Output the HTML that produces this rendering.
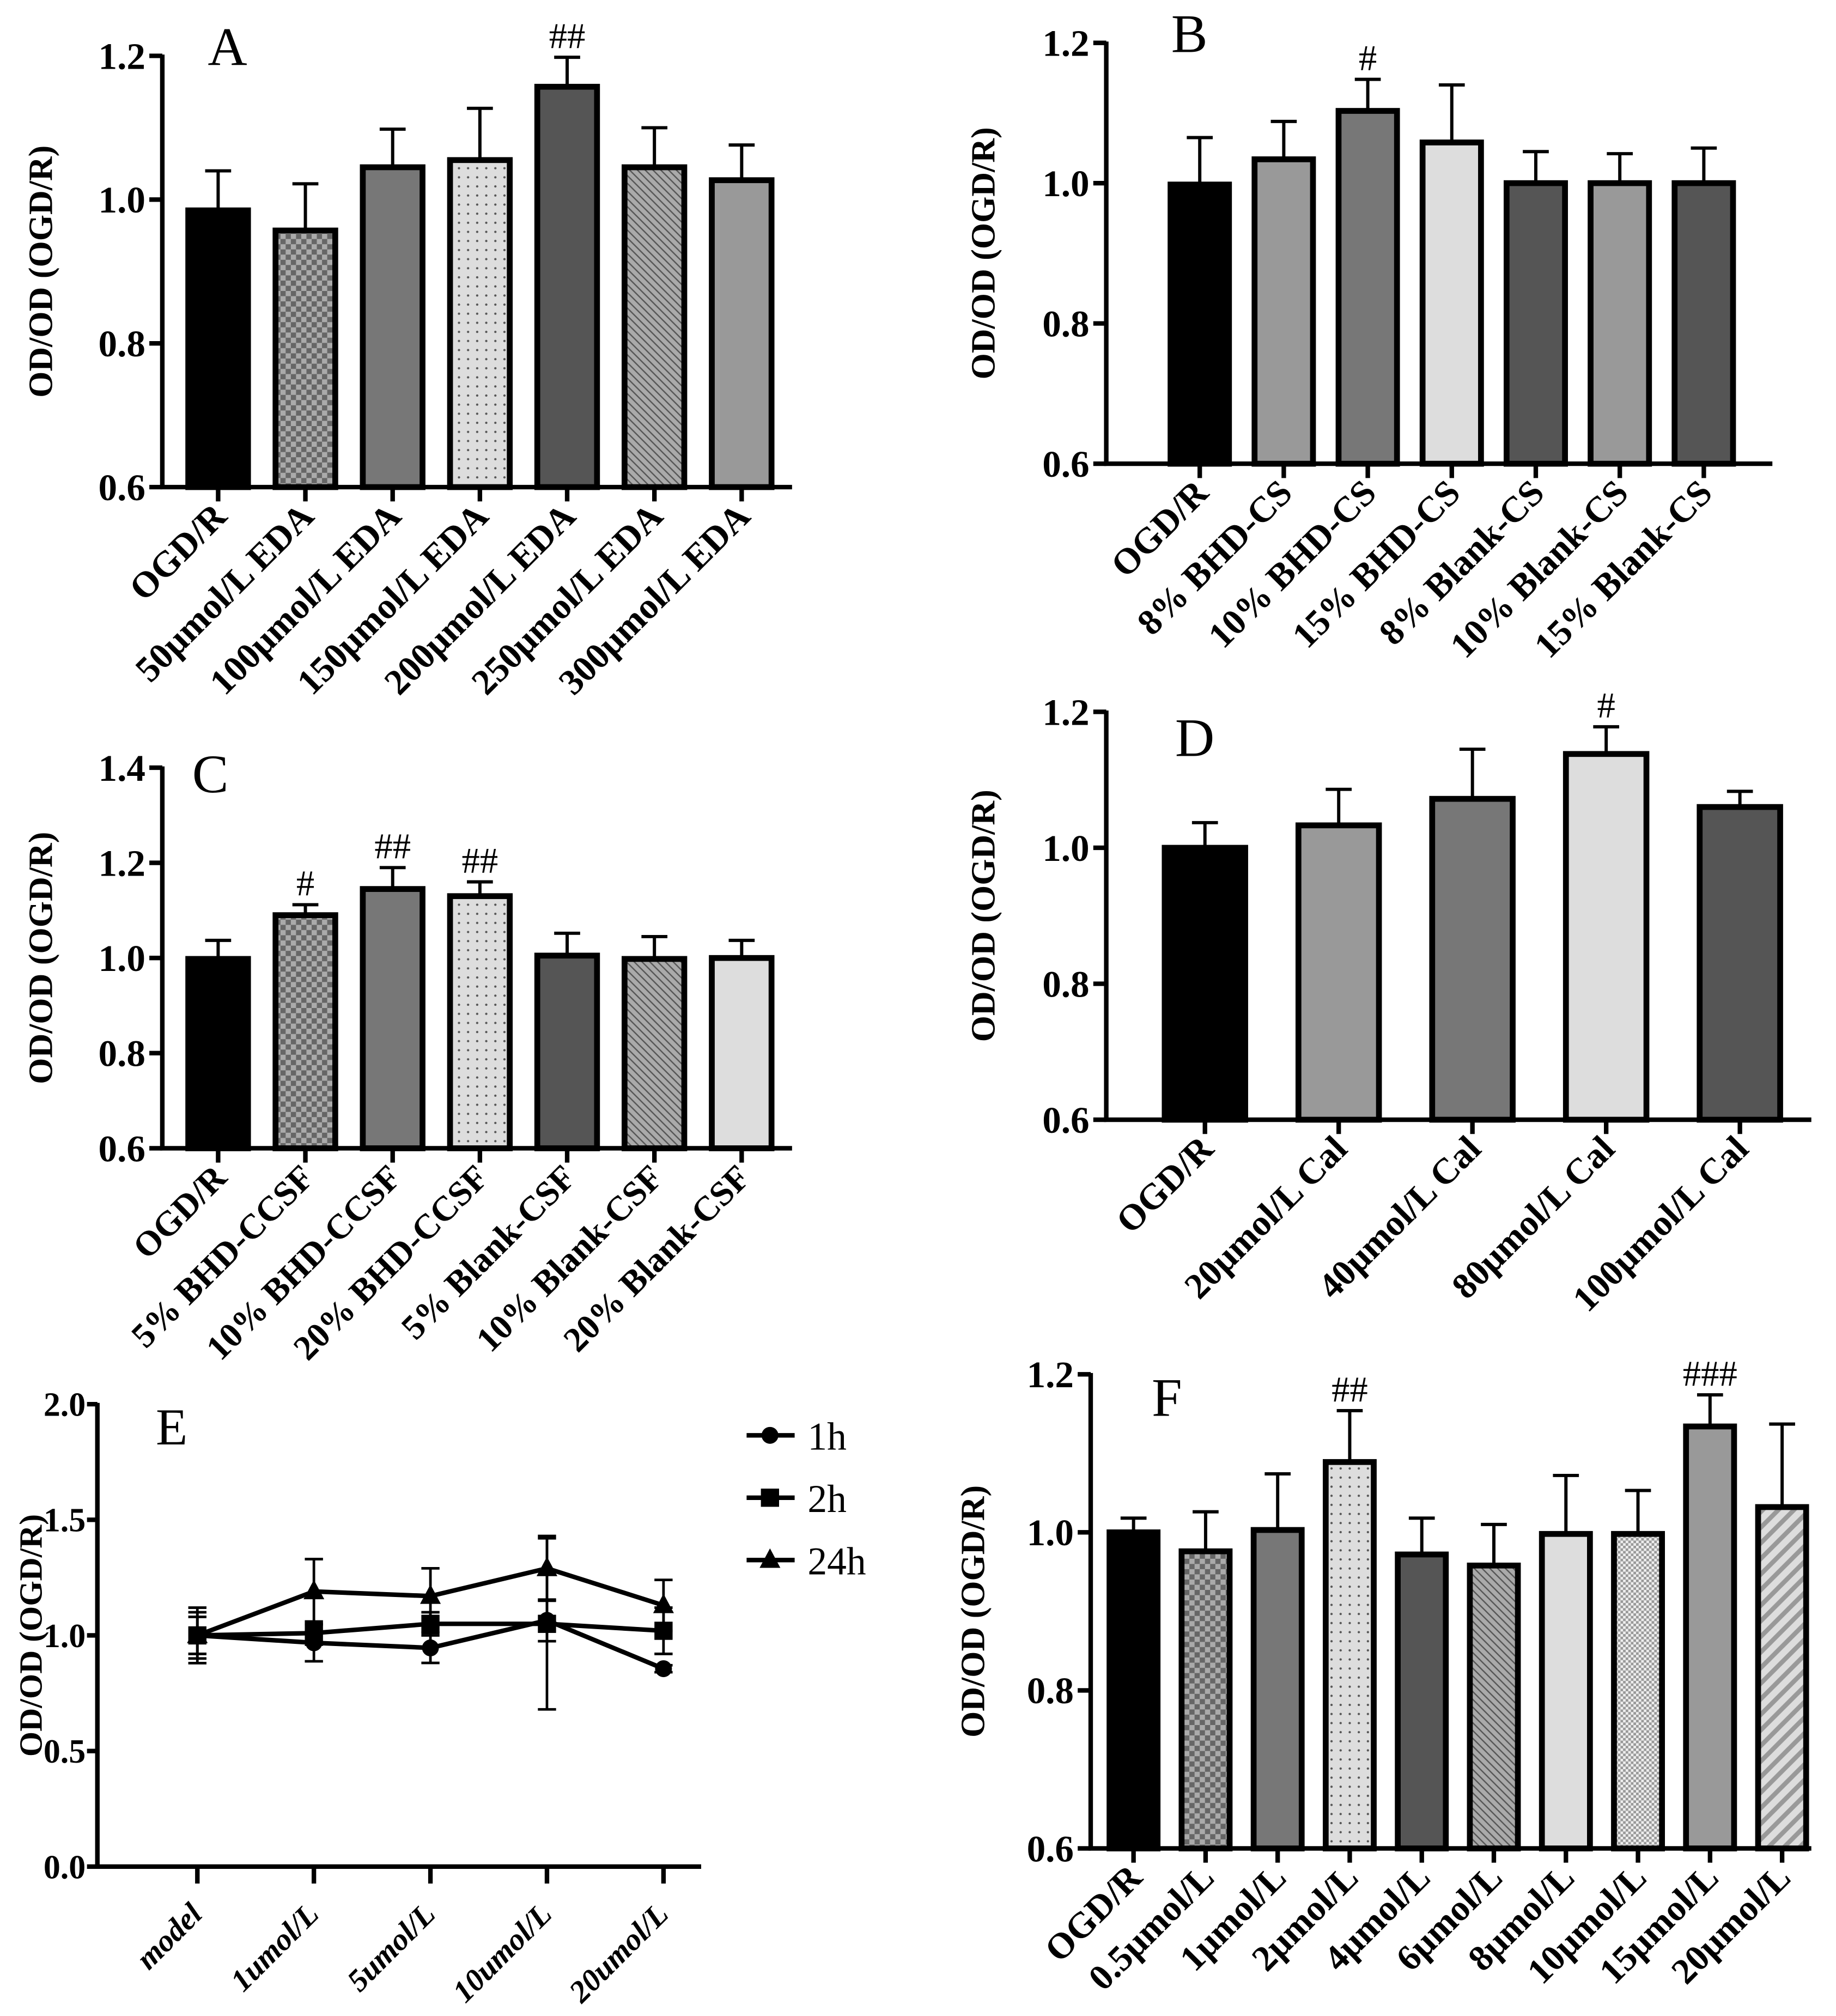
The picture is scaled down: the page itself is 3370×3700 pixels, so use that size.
<!DOCTYPE html>
<html><head><meta charset="utf-8"><style>
html,body{margin:0;padding:0;background:#fff;}
svg{display:block;}
text{font-family:"Liberation Serif",serif;}
</style></head><body>
<svg id="fig" xmlns="http://www.w3.org/2000/svg" width="3370" height="3700" viewBox="0 0 1414 1552" preserveAspectRatio="none">
<defs>
<pattern id="checker" patternUnits="userSpaceOnUse" width="8" height="8"><rect width="8" height="8" fill="#aaa"/><rect width="4" height="4" fill="#666"/><rect x="4" y="4" width="4" height="4" fill="#666"/></pattern>
<pattern id="dots" patternUnits="userSpaceOnUse" width="7" height="7"><rect width="7" height="7" fill="#ddd"/><circle cx="3.5" cy="3.5" r="0.9" fill="#555"/></pattern>
<pattern id="hatch" patternUnits="userSpaceOnUse" width="6" height="6"><rect width="6" height="6" fill="#aaa"/><path d="M-1,-1 L7,7 M-1,5 L1,7 M5,-1 L7,1" stroke="#555" stroke-width="1"/></pattern>
<pattern id="finecheck" patternUnits="userSpaceOnUse" width="4" height="4"><rect width="4" height="4" fill="#eee"/><rect width="2" height="2" fill="#999"/><rect x="2" y="2" width="2" height="2" fill="#999"/></pattern>
<pattern id="stripes" patternUnits="userSpaceOnUse" width="12" height="12"><rect width="12" height="12" fill="#ddd"/><path d="M-3,15 L15,-3 M-3,3 L3,-3 M9,15 L15,9" stroke="#999" stroke-width="3.5"/></pattern>
</defs>
<g id="root"></g>
</svg>
<script>
// ---- Panel A data ----
const catsA = ["OGD/R","50µmol/L EDA","100µmol/L EDA","150µmol/L EDA","200µmol/L EDA","250µmol/L EDA","300µmol/L EDA"];
const valsA = [0.985,0.957,1.045,1.055,1.157,1.045,1.027];
const errA  = [0.055,0.065,0.053,0.072,0.041,0.055,0.049];
const sigA  = ["","","","","##","",""];
const fillA = ["#000","url(#checker)","#777","url(#dots)","#555","url(#hatch)","#999"];
const ticksA = [0.6,0.8,1.0,1.2];
// ---- Panel B data ----
const catsB = ["OGD/R","8% BHD-CS","10% BHD-CS","15% BHD-CS","8% Blank-CS","10% Blank-CS","15% Blank-CS"];
const valsB = [0.998,1.034,1.103,1.058,1.0,1.0,1.0];
const errB  = [0.067,0.054,0.045,0.082,0.045,0.042,0.05];
const sigB  = ["","","#","","","",""];
const fillB = ["#000","#999","#777","#ddd","#555","#999","#555"];
const ticksB = [0.6,0.8,1.0,1.2];
// ---- Panel C data ----
const catsC = ["OGD/R","5% BHD-CCSF","10% BHD-CCSF","20% BHD-CCSF","5% Blank-CSF","10% Blank-CSF","20% Blank-CSF"];
const valsC = [0.998,1.09,1.145,1.13,1.005,0.998,1.0];
const errC  = [0.039,0.022,0.045,0.03,0.047,0.047,0.037];
const sigC  = ["","#","##","##","","",""];
const fillC = ["#000","url(#checker)","#777","url(#dots)","#555","url(#hatch)","#ddd"];
const ticksC = [0.6,0.8,1.0,1.2,1.4];
// ---- Panel D data ----
const catsD = ["OGD/R","20µmol/L Cal","40µmol/L Cal","80µmol/L Cal","100µmol/L Cal"];
const valsD = [1.0,1.033,1.072,1.138,1.06];
const errD  = [0.037,0.053,0.073,0.04,0.023];
const sigD  = ["","","","#",""];
const fillD = ["#000","#999","#777","#ddd","#555"];
const ticksD = [0.6,0.8,1.0,1.2];
// ---- Panel F data ----
const catsF = ["OGD/R","0.5µmol/L","1µmol/L","2µmol/L","4µmol/L","6µmol/L","8µmol/L","10µmol/L","15µmol/L","20µmol/L"];
const valsF = [1.0,0.976,1.003,1.089,0.972,0.958,0.998,0.998,1.134,1.032];
const errF  = [0.018,0.05,0.071,0.065,0.046,0.052,0.074,0.055,0.04,0.105];
const sigF  = ["","","","##","","","","","###",""];
const fillF = ["#000","url(#checker)","#777","url(#dots)","#555","url(#hatch)","#ddd","url(#finecheck)","#999","url(#stripes)"];
const ticksF = [0.6,0.8,1.0,1.2];
// ---- Panel E data ----
const catsE = ["model","1umol/L","5umol/L","10umol/L","20umol/L"];
const seriesNames = ["1h","2h","24h"];
const vals1h  = [1.0,0.968,0.946,1.065,0.856];
const vals2h  = [1.0,1.01,1.05,1.05,1.02];
const vals24h = [1.0,1.19,1.17,1.29,1.13];
const err1h  = [0.08,0.08,0.065,0.09,0.015];
const err2h  = [0.12,0.05,0.05,0.37,0.1];
const err24h = [0.1,0.14,0.12,0.14,0.11];
const ticksE = [0.0,0.5,1.0,1.5,2.0];

const NS="http://www.w3.org/2000/svg";
const root=document.getElementById('root');
function mk(tag,attrs,parent,txt){const e=document.createElementNS(NS,tag);for(const k in attrs)e.setAttribute(k,attrs[k]);if(txt!==undefined)e.textContent=txt;(parent||root).appendChild(e);return e;}

function barPanel(id,letter,cats,vals,errs,sigs,fills,ticks,L){
  const g=mk('g',{});
  
  
  const ymin=ticks[0],ymax=ticks[ticks.length-1];
  const y=v=>L.yB+(v-ymin)/(ymax-ymin)*(L.yT-L.yB);
  const x=i=>L.first+i*L.step;
  cats.forEach((c,i)=>{
    const top=y(vals[i]);
    const r=mk('rect',{x:x(i)-L.bw/2,y:top,width:L.bw,height:L.yB-top,fill:fills[i],stroke:'#000','stroke-width':4.5},g);
    
    
    const et=y(vals[i]+errs[i]);
    const eb=mk('path',{d:`M${x(i)},${top} L${x(i)},${et} M${x(i)-10},${et} L${x(i)+10},${et}`,stroke:'#000','stroke-width':2.5,fill:'none'},g);
    
    
    if(sigs[i]){
      const s=mk('text',{x:x(i),y:et-7,'text-anchor':'middle','font-size':28},g,sigs[i]);
      
      
    }
    mk('line',{x1:x(i),x2:x(i),y1:L.yB,y2:L.yB+11,stroke:'#000','stroke-width':3.5},g);
    const t=mk('text',{x:x(i)+8,y:L.yB+24,'text-anchor':'end','font-weight':'bold','font-size':L.fs||28,transform:`rotate(-45 ${x(i)+8} ${L.yB+24})`},g,c);
    
    
  });
  const ax=mk('path',{d:`M${L.x0},${L.yT-1} L${L.x0},${L.yB} L${L.xEnd},${L.yB}`,stroke:'#000','stroke-width':3.5,fill:'none'},g);
  
  
  ticks.forEach(v=>{
    mk('line',{x1:L.x0-10,x2:L.x0,y1:y(v),y2:y(v),stroke:'#000','stroke-width':3.5},g);
    const t=mk('text',{x:L.x0-13,y:y(v)+10,'text-anchor':'end','font-weight':'bold','font-size':29},g,v.toFixed(1));
    
    
  });
  const cy=(L.yT+L.yB)/2;
  const ti=mk('text',{x:L.tx,y:cy,'text-anchor':'middle','font-weight':'bold','font-size':26,'font-family':'Liberation Sans, sans-serif',transform:`rotate(-90 ${L.tx} ${cy})`},g,'OD/OD (OGD/R)');
  
  
  const lt=mk('text',{x:L.lx,y:L.ly,'font-size':42},g,letter);
  
  
}

barPanel('a','A',catsA,valsA,errA,sigA,fillA,ticksA,{x0:125,yT:43,yB:375,first:168,step:67.2,bw:46,xEnd:610,tx:40,lx:160,ly:50});
barPanel('b','B',catsB,valsB,errB,sigB,fillB,ticksB,{x0:852,yT:33,yB:357,first:924,step:64.7,bw:45,xEnd:1365,tx:766,lx:902,ly:40});
barPanel('c','C',catsC,valsC,errC,sigC,fillC,ticksC,{x0:125,yT:591,yB:884,first:168,step:67.2,bw:46,xEnd:610,tx:40,lx:148,ly:610,fs:27});
barPanel('d','D',catsD,valsD,errD,sigD,fillD,ticksD,{x0:852,yT:548,yB:862,first:928,step:103,bw:62,xEnd:1395,tx:766,lx:905,ly:582});
barPanel('f','F',catsF,valsF,errF,sigF,fillF,ticksF,{x0:840,yT:1058,yB:1423,first:873,step:55.5,bw:37,xEnd:1395,tx:758,lx:887,ly:1090});

// ---- Panel E (line chart) ----
(function(){
  const g=mk('g',{});
  
  
  const x0=75,yT=1081,yB=1437,xEnd=540,first=152,step=89.75;
  const ymin=ticksE[0],ymax=ticksE[ticksE.length-1];
  const y=v=>yB+(v-ymin)/(ymax-ymin)*(yT-yB);
  const x=i=>first+i*step;
  const ax=mk('path',{d:`M${x0},${yT-1} L${x0},${yB} L${xEnd},${yB}`,stroke:'#000','stroke-width':3.5,fill:'none'},g);
  
  
  ticksE.forEach(v=>{
    mk('line',{x1:x0-8,x2:x0,y1:y(v),y2:y(v),stroke:'#000','stroke-width':3.5},g);
    const t=mk('text',{x:x0-9,y:y(v)+9,'text-anchor':'end','font-weight':'bold','font-size':26},g,v.toFixed(1));
    
    
  });
  catsE.forEach((c,i)=>{
    mk('line',{x1:x(i),x2:x(i),y1:yB,y2:yB+13,stroke:'#000','stroke-width':3.5},g);
    const t=mk('text',{x:x(i)+5,y:yB+38,'text-anchor':'end','font-weight':'bold','font-style':'italic','font-size':24,transform:`rotate(-45 ${x(i)+5} ${yB+38})`},g,c);
    
    
  });
  const cy=(yT+yB)/2;
  const ti=mk('text',{x:32,y:cy,'text-anchor':'middle','font-weight':'bold','font-size':25,'font-family':'Liberation Sans, sans-serif',transform:`rotate(-90 32 ${cy})`},g,'OD/OD (OGD/R)');
  
  
  const lt=mk('text',{x:120,y:1112,'font-size':40},g,'E');
  
  
  const allVals=[vals1h,vals2h,vals24h], allErr=[err1h,err2h,err24h], shapes=['circle','square','triangle'];
  function marker(sh,cx,cy,parent){
    if(sh==='circle') return mk('circle',{cx:cx,cy:cy,r:6.5,fill:'#000'},parent);
    if(sh==='square') return mk('rect',{x:cx-7,y:cy-7,width:14,height:14,fill:'#000'},parent);
    return mk('path',{d:`M${cx},${cy-9} L${cx+8},${cy+6} L${cx-8},${cy+6} Z`,fill:'#000'},parent);
  }
  allVals.forEach((vals,s)=>{
    const sg=mk('g',{},g);
    
    
    vals.forEach((v,i)=>{
      const e=allErr[s][i];
      mk('path',{d:`M${x(i)},${y(v-e)} L${x(i)},${y(v+e)} M${x(i)-7},${y(v-e)} L${x(i)+7},${y(v-e)} M${x(i)-7},${y(v+e)} L${x(i)+7},${y(v+e)}`,stroke:'#000','stroke-width':2,fill:'none'},sg);
    });
    const ln=mk('polyline',{points:vals.map((v,i)=>x(i)+','+y(v)).join(' '),stroke:'#000','stroke-width':3.5,fill:'none'},sg);
    
    
    vals.forEach((v,i)=>{
      const m=marker(shapes[s],x(i),y(v),sg);
      
      
    });
    const ly=1105+s*48;
    const le=mk('g',{},g);
    
    
    mk('line',{x1:575,x2:612,y1:ly,y2:ly,stroke:'#000','stroke-width':3.5},le);
    marker(shapes[s],593,ly,le);
    mk('text',{x:622,y:ly+11,'font-size':30},le,seriesNames[s]);
  });
})();
</script>
</body></html>
